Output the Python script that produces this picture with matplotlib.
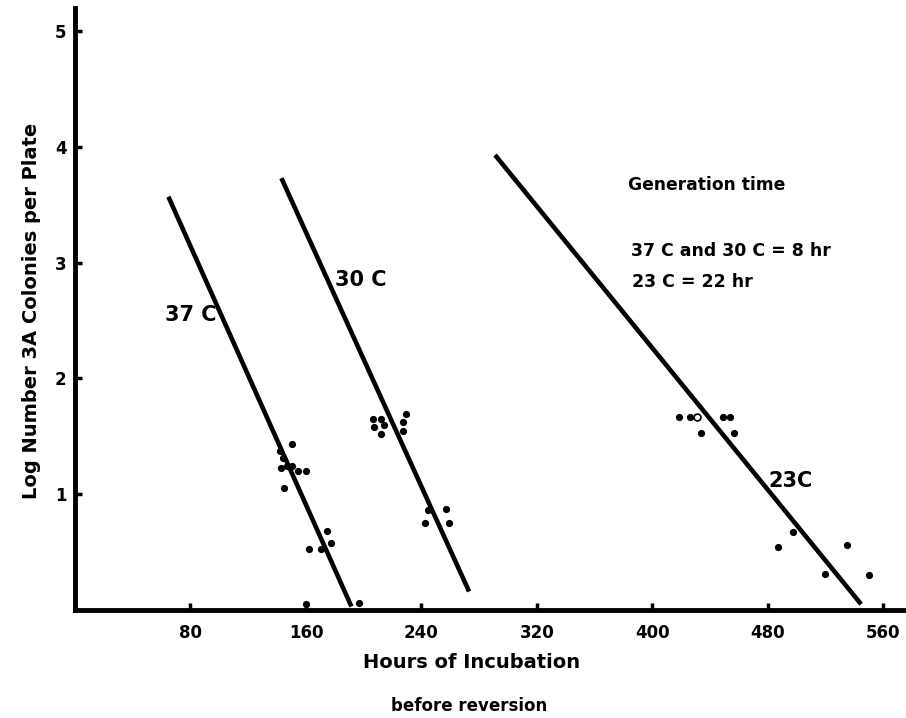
import matplotlib
matplotlib.use("Agg")
import matplotlib.pyplot as plt

# linhas ajustadas (horas, log colonias)
LINE_37 = ([64.7, 191.5], [3.57, 0.03])
LINE_30 = ([143.0, 273.0], [3.73, 0.16])
LINE_23 = ([291.0, 544.6], [3.93, 0.05])

# pontos medidos
X37 = [150.0, 142.3, 144.4, 143.0, 147.2, 150.0, 154.8, 159.7, 145.1, 174.9, 177.6, 162.4, 170.7, 160.3, 197.0]
Y37 = [1.43, 1.37, 1.31, 1.23, 1.24, 1.24, 1.20, 1.20, 1.05, 0.68, 0.58, 0.53, 0.53, 0.05, 0.06]
X30 = [206.7, 212.3, 214.3, 207.4, 212.3, 229.6, 227.5, 227.5, 244.8, 257.3, 242.7, 259.3]
Y30 = [1.65, 1.65, 1.60, 1.58, 1.52, 1.69, 1.62, 1.55, 0.86, 0.87, 0.75, 0.75]
X23 = [418.6, 426.2, 449.1, 454.0, 433.8, 456.7, 497.6, 487.2, 534.9, 519.7, 550.2]
Y23 = [1.67, 1.67, 1.67, 1.67, 1.53, 1.53, 0.67, 0.54, 0.56, 0.31, 0.30]
X23_OPEN = [431.1]
Y23_OPEN = [1.67]

XTICKS = [80, 160, 240, 320, 400, 480, 560]
YTICKS = [1, 2, 3, 4, 5]

plt.rcParams["font.family"] = ["DejaVu Sans"]
plt.rcParams["font.weight"] = "bold"

fig = plt.figure(figsize=(9.06, 7.18), dpi=100)
ax = fig.add_axes([75 / 906, 108 / 718, 830 / 906, 602 / 718])

for xs, ys in (LINE_37, LINE_30, LINE_23):
    ax.plot(xs, ys, color="black", lw=3.3, solid_capstyle="butt")
ax.plot(X37 + X30 + X23, Y37 + Y30 + Y23, "o", color="black", ms=5.2, mew=0)
ax.plot(X23_OPEN, Y23_OPEN, "o", mfc="white", mec="black", ms=5, mew=1.2)

ax.set_xlim(0, 575)
ax.set_ylim(0, 5.2)
ax.set_xticks(XTICKS)
ax.set_yticks(YTICKS)
ax.tick_params(direction="in", length=5, width=2.5, labelsize=12)
ax.tick_params(axis="x", pad=10)
ax.tick_params(axis="y", pad=6)
for s in ("top", "right"):
    ax.spines[s].set_visible(False)
for s in ("left", "bottom"):
    ax.spines[s].set_linewidth(3.5)

ax.text(80, 2.55, "37 C", fontsize=15, ha="center", va="center")
ax.text(197.7, 2.85, "30 C", fontsize=15, ha="center", va="center")
ax.text(495.5, 1.11, "23C", fontsize=15, ha="center", va="center")
ax.text(383.3, 3.67, "Generation time", fontsize=12.3, ha="left", va="center")
ax.text(385.4, 3.10, "37 C and 30 C = 8 hr", fontsize=12.5, ha="left", va="center")
ax.text(386, 2.83, "23 C = 22 hr", fontsize=12.5, ha="left", va="center")

fig.text(32 / 906, 1 - 311 / 718, "Log Number 3A Colonies per Plate", rotation=90,
         fontsize=14, ha="center", va="center")
fig.text(472 / 906, 1 - 662 / 718, "Hours of Incubation", fontsize=14, ha="center", va="center")
fig.text(469 / 906, 1 - 706 / 718, "before reversion", fontsize=12, ha="center", va="center")

fig.savefig("out.png", dpi=100)
